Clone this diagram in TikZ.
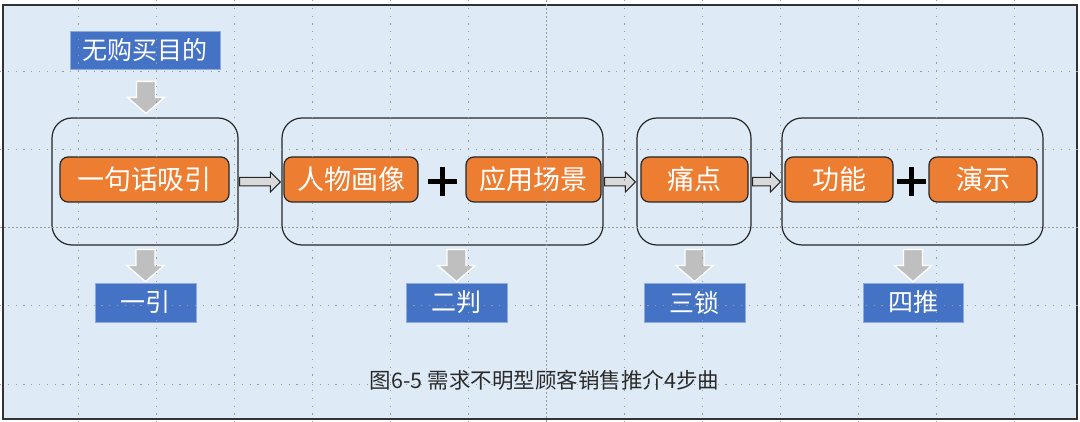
\documentclass[tikz,border=0pt]{standalone}
\usepackage{fontspec}
\setmainfont{Noto Sans CJK SC}
\usetikzlibrary{calc}
\definecolor{bgc}{HTML}{DEEBF7}
\definecolor{orangec}{HTML}{ED7D31}
\definecolor{bluec}{HTML}{4472C4}
\definecolor{bluebd}{HTML}{8FAADC}
\definecolor{arrgray}{HTML}{BFBFBF}
\definecolor{blockgray}{HTML}{D9D9D9}
\definecolor{gridc}{HTML}{9A9A9A}
\definecolor{capc}{HTML}{2A2A2A}
\tikzset{
  groupbox/.style={draw=black!85, line width=1.2pt, rounded corners=20pt, inner sep=0pt},
  obox/.style={fill=orangec, draw=black!85, line width=1.2pt, rounded corners=8pt, text=white,
    font=\fontsize{27}{27}\selectfont, minimum height=45pt, inner sep=0pt},
  bbox/.style={fill=bluec, draw=bluebd, line width=0.8pt, text=white,
    font=\fontsize{25}{25}\selectfont, minimum height=39pt, inner sep=0pt},
  blockarr/.style={fill=blockgray, draw=black!85, line width=1pt, line join=miter},
  plussign/.style={line width=5pt, draw=black},
  gridline/.style={draw=gridc, line width=1pt, dash pattern=on 1.2pt off 6.6pt},
  gridline2/.style={draw=gridc, line width=1pt, dash pattern=on 2pt off 2pt},
  downarrow/.pic={\path[fill=arrgray, draw=white, line width=1.3pt, line join=miter]
    (-9.5,0) -- (9.5,0) -- (9.5,16) -- (18.5,16) -- (0,32) -- (-18.5,16) -- (-9.5,16) -- cycle;}
}
\begin{document}
\begin{tikzpicture}[x=1pt,y=-1pt]
\useasboundingbox (0,0) rectangle (1080,422);
\draw[fill=bgc, draw=black!80, line width=1.5pt] (3,5) rectangle (1077,419);

% groups
\node[groupbox, minimum width=186pt, minimum height=127pt] (g1) at (145,181.5) {};
\node[groupbox, minimum width=321pt, minimum height=127pt] (g2) at (442.5,181.5) {};
\node[groupbox, minimum width=114pt, minimum height=127pt] (g3) at (694,181.5) {};
\node[groupbox, minimum width=261pt, minimum height=127pt] (g4) at (912.5,181.5) {};

% orange boxes
\node[obox, minimum width=169pt] (o1) at (144.5,179.5) {一句话吸引};
\node[obox, minimum width=134pt] (o2) at (351,179.5) {人物画像};
\node[obox, minimum width=135pt] (o3) at (533.5,179.5) {应用场景};
\node[obox, minimum width=107pt] (o4) at (694.5,179.5) {痛点};
\node[obox, minimum width=108pt] (o5) at (839,179.5) {功能};
\node[obox, minimum width=108pt] (o6) at (983,179.5) {演示};

% blue boxes
\node[bbox, minimum width=150pt, minimum height=38pt] (top) at (145,50) {无购买目的};
\node[bbox, minimum width=101pt] (b1) at (145.5,302.5) {一引};
\node[bbox, minimum width=101pt] (b2) at (456.5,302.5) {二判};
\node[bbox, minimum width=101pt] (b3) at (694.5,302.5) {三锁};
\node[bbox, minimum width=100pt] (b4) at (913,302.5) {四推};

% plus signs
\coordinate (p1) at ($(o2.east)!0.5!(o3.west)$);
\coordinate (p2) at ($(o5.east)!0.5!(o6.west)$);
\foreach \p in {p1,p2}{
  \draw[plussign] ($(\p)+(-14.5,2.5)$) -- ($(\p)+(14.5,2.5)$);
  \draw[plussign] ($(\p)+(0,-12)$) -- ($(\p)+(0,17)$);
}

% down arrows
\pic at ($(top.south)+(1,12)$) {downarrow};
\foreach \b in {b1,b2,b3,b4}{
  \pic at ($(\b.north)+(0,-33)$) {downarrow};
}

% block arrows between groups
\foreach \a/\b in {g1/g2,g2/g3,g3/g4}{
  \draw[blockarr] ($(\a.east)+(1,-4)$) -- ($(\b.west)+(-11,-4)$) -- ($(\b.west)+(-11,-9.5)$)
    -- ($(\b.west)+(-1,0.5)$) -- ($(\b.west)+(-11,10.5)$) -- ($(\b.west)+(-11,4.5)$)
    -- ($(\a.east)+(1,4.5)$) -- cycle;
}

% caption
\node[text=capc, font=\fontsize{21.5}{22}\selectfont, inner sep=0pt] (cap) at (544.5,380) {图6-5 需求不明型顾客销售推介4步曲};

% guide grid (on top)
\foreach \x in {78,156,234,312,390,468,624,702,780,858,936,1014}{
  \draw[gridline] (\x,0) -- (\x,422);
}
\draw[gridline2] (546,0) -- (546,422);
\foreach \y in {72,150,306,384}{
  \draw[gridline] (0,\y) -- (1080,\y);
}
\draw[gridline2] (0,228) -- (1080,228);
\end{tikzpicture}
\end{document}
